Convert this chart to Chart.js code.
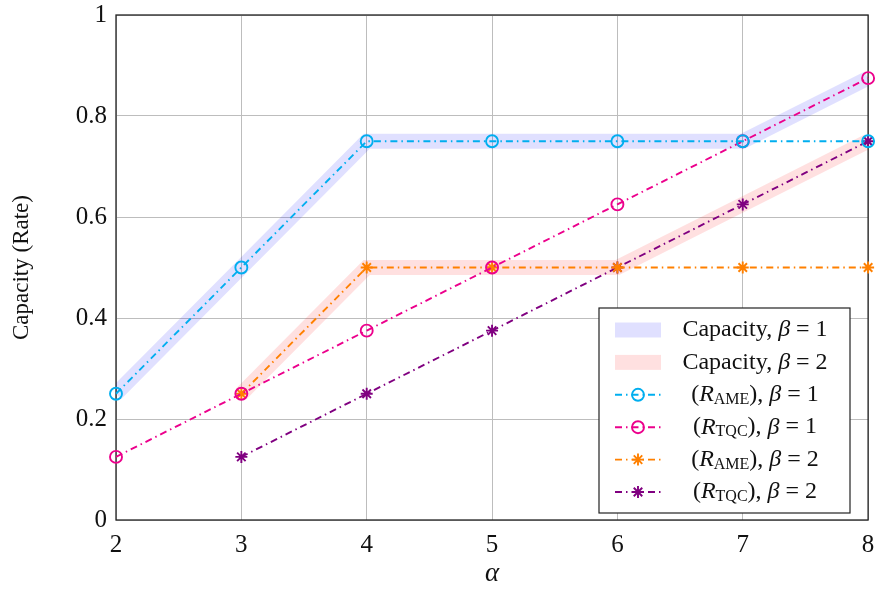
<!DOCTYPE html>
<html>
<head>
<meta charset="utf-8">
<script src="https://cdn.jsdelivr.net/npm/chart.js@4/dist/chart.umd.min.js"></script>
<style>
  html, body { margin: 0; padding: 0; background: #fff; }
  #wrap { width: 876px; height: 590px; position: relative; }
</style>
</head>
<body>
<div id="wrap"><canvas id="chart"></canvas></div>
<script>
// alpha values on the x axis
const alphas = [2, 3, 4, 5, 6, 7, 8];
const yTicks = [0, 0.2, 0.4, 0.6, 0.8, 1];

// series, null where a series has no point
const capacityB1 = [0.25, 0.5, 0.75, 0.75, 0.75, 0.75, 0.875];
const capacityB2 = [null, 0.25, 0.5, 0.5, 0.5, 0.625, 0.75];
const ameB1 = [0.25, 0.5, 0.75, 0.75, 0.75, 0.75, 0.75];
const tqcB1 = [0.125, 0.25, 0.375, 0.5, 0.625, 0.75, 0.875];
const ameB2 = [null, 0.25, 0.5, 0.5, 0.5, 0.5, 0.5];
const tqcB2 = [null, 0.125, 0.25, 0.375, 0.5, 0.625, 0.75];

const SERIF = '"Liberation Serif", "DejaVu Serif", serif';
const CYAN = 'rgb(0,174,239)';
const MAGENTA = 'rgb(236,0,140)';
const ORANGE = 'rgb(255,128,0)';
const PURPLE = 'rgb(128,0,128)';
const BAND_BLUE = 'rgba(0,0,255,0.12)';
const BAND_RED = 'rgba(255,0,0,0.12)';
const DASH = [7, 4, 1.5, 4];

function pts(arr) {
    return alphas.map((a, i) => ({ x: a, y: arr[i] })).filter(p => p.y !== null);
}

function band(label, data, color) {
    return {
        label: label, data: pts(data), borderColor: color, backgroundColor: color,
        borderWidth: 15, pointRadius: 0, borderCapStyle: 'butt', borderJoinStyle: 'miter',
        order: 2
    };
}

function series(label, data, color, marker) {
    return {
        label: label, data: pts(data), borderColor: color, backgroundColor: 'rgba(0,0,0,0)',
        borderWidth: 1.9, borderDash: DASH, pointStyle: marker,
        pointRadius: 6, pointBorderWidth: 1.9,
        pointBorderColor: color, clip: false, order: 1
    };
}

const datasets = [
    band('Capacity b1', capacityB1, BAND_BLUE),
    band('Capacity b2', capacityB2, BAND_RED),
    series('AME b1', ameB1, CYAN, 'circle'),
    series('TQC b1', tqcB1, MAGENTA, 'circle'),
    series('AME b2', ameB2, ORANGE, 'star'),
    series('TQC b2', tqcB2, PURPLE, 'star')
];

// draw a line of mixed fonts: segments of [text, font, dy]
function richText(ctx, segs, cx, cy) {
    let w = 0;
    segs.forEach(s => { ctx.font = s[1]; w += ctx.measureText(s[0]).width; });
    let x = cx - w / 2;
    ctx.textBaseline = 'middle';
    ctx.textAlign = 'left';
    segs.forEach(s => {
        ctx.font = s[1];
        ctx.fillText(s[0], x, cy + (s[2] || 0));
        x += ctx.measureText(s[0]).width;
    });
}

const RM = '24px ' + SERIF;
const IT = 'italic 24px ' + SERIF;
const SUB = '16px ' + SERIF;

function mathLabel(sub, beta) {
    return [['(', RM], ['R', IT], [sub, SUB, 5], [')', RM], [', ', RM], ['β', IT], [' = ' + beta, RM]];
}

const legendRows = [
    { type: 'band', color: BAND_BLUE, text: [['Capacity, ', RM], ['β', IT], [' = 1', RM]] },
    { type: 'band', color: BAND_RED, text: [['Capacity, ', RM], ['β', IT], [' = 2', RM]] },
    { type: 'line', ds: 2, text: mathLabel('AME', 1) },
    { type: 'line', ds: 3, text: mathLabel('TQC', 1) },
    { type: 'line', ds: 4, text: mathLabel('AME', 2) },
    { type: 'line', ds: 5, text: mathLabel('TQC', 2) }
];

const framePlugin = {
    id: 'frame',
    beforeDatasetsDraw(chart) {
        const a = chart.chartArea;
        const ctx = chart.ctx;
        ctx.save();
        ctx.strokeStyle = '#222';
        ctx.lineWidth = 1.3;
        ctx.strokeRect(a.left, a.top, a.right - a.left, a.bottom - a.top);
        ctx.restore();
    },
    afterDraw(chart) {
        const ctx = chart.ctx;
        const bx = 599, by = 308, bw = 251, bh = 205;
        ctx.save();
        ctx.fillStyle = '#fff';
        ctx.fillRect(bx, by, bw, bh);
        ctx.strokeStyle = '#222';
        ctx.lineWidth = 1.2;
        ctx.strokeRect(bx, by, bw, bh);
        legendRows.forEach((row, i) => {
            const cy = 330 + i * 32.4;
            if (row.type === 'band') {
                ctx.fillStyle = row.color;
                ctx.fillRect(615, cy - 7.5, 46, 15);
            } else {
                const ds = datasets[row.ds];
                ctx.strokeStyle = ds.borderColor;
                ctx.fillStyle = 'rgba(0,0,0,0)';
                ctx.lineWidth = ds.borderWidth;
                ctx.setLineDash(DASH);
                ctx.beginPath();
                ctx.moveTo(615, cy);
                ctx.lineTo(661, cy);
                ctx.stroke();
                ctx.setLineDash([]);
                Chart.helpers.drawPoint(ctx, {
                    pointStyle: ds.pointStyle, radius: ds.pointRadius,
                    borderWidth: ds.pointBorderWidth, rotation: 0
                }, 638, cy);
            }
            ctx.fillStyle = '#111';
            richText(ctx, row.text, 755, cy);
        });
        ctx.restore();
    }
};

function noPadX(s) { s.height = 70; s.paddingLeft = 0; s.paddingRight = 0; }
function noPadY(s) { s.width = 116; s.paddingTop = 0; s.paddingBottom = 0; }

new Chart(document.getElementById('chart'), {
    type: 'line',
    data: { datasets: datasets },
    plugins: [framePlugin],
    options: {
        responsive: true,
        maintainAspectRatio: false,
        animation: false,
        layout: { padding: { top: 15, right: 5, left: 0, bottom: 0 } },
        plugins: { legend: { display: false }, tooltip: { enabled: false } },
        scales: {
            x: {
                type: 'linear', min: 2, max: 8,
                afterBuildTicks: s => { s.ticks = alphas.map(v => ({ value: v })); },
                afterFit: noPadX,
                border: { display: false },
                grid: { color: '#bdbdbd', lineWidth: 1, drawTicks: false },
                ticks: { color: '#111', padding: 10, font: { family: SERIF, size: 25 } },
                title: { display: true, text: 'α', color: '#111', padding: { top: 0, bottom: 0 },
                    font: { family: SERIF, size: 27, style: 'italic' } }
            },
            y: {
                min: 0, max: 1,
                afterBuildTicks: s => { s.ticks = yTicks.map(v => ({ value: v })); },
                afterFit: noPadY,
                border: { display: false },
                grid: { color: '#bdbdbd', lineWidth: 1, drawTicks: false },
                ticks: { color: '#111', padding: 9, font: { family: SERIF, size: 25 },
                    callback: v => String(+v.toFixed(1)) },
                title: { display: true, text: 'Capacity (Rate)', color: '#111', padding: { top: 8 },
                    font: { family: SERIF, size: 23 } }
            }
        }
    }
});
</script>
</body>
</html>
